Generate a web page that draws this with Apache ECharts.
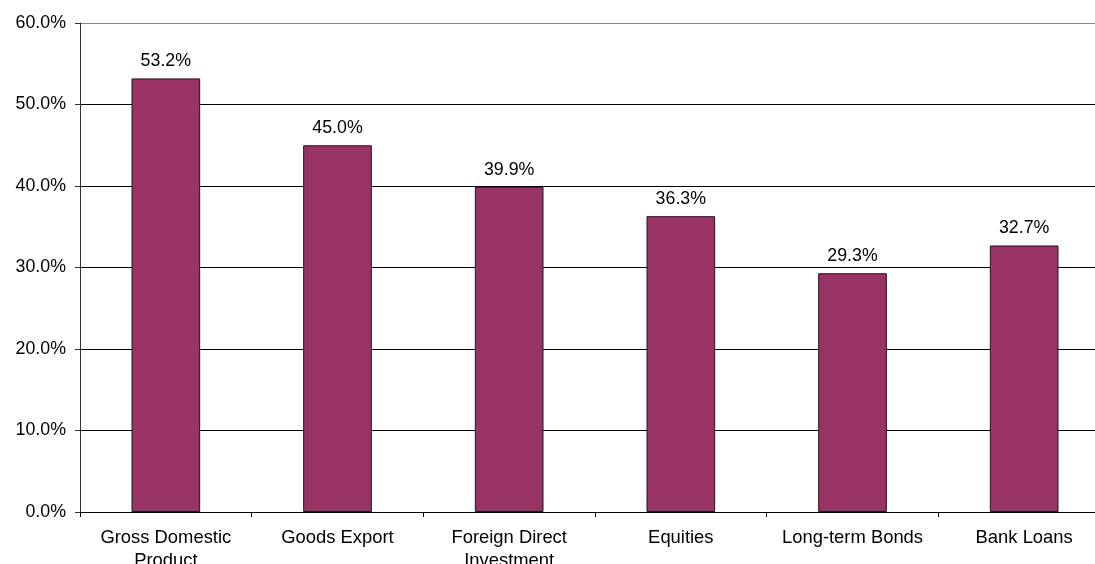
<!DOCTYPE html>
<html>
<head>
<meta charset="utf-8">
<script src="https://cdn.jsdelivr.net/npm/echarts@6/dist/echarts.min.js"></script>
<style>
  html, body { margin: 0; padding: 0; background: #fff; overflow: hidden; }
  #chart { width: 1095px; height: 564px; }
</style>
</head>
<body>
<div id="chart"></div>
<script>
// Share of world total by category (percent)
const categories = ['Gross Domestic\nProduct', 'Goods Export', 'Foreign Direct\nInvestment', 'Equities', 'Long-term Bonds', 'Bank Loans'];
const shares = [53.2, 45.0, 39.9, 36.3, 29.3, 32.7];

const FONT = '"Liberation Sans", Arial, sans-serif';
const FS_CAT = 18.4;   // category names
const FS_NUM = 17.8;   // percentages

const chart = echarts.init(document.getElementById('chart'), null, { renderer: 'canvas' });
chart.setOption({
  animation: false,
  backgroundColor: '#ffffff',
  // the plot area runs a little past the right and bottom edges of the canvas
  grid: { left: 80, width: 1030, top: 23, height: 489, containLabel: false, outerBoundsMode: 'none' },
  xAxis: {
    type: 'category',
    data: categories,
    axisLine: { lineStyle: { color: '#000', width: 1 } },
    axisTick: { show: true, alignWithLabel: false, length: 5, inside: false, lineStyle: { color: '#000' } },
    axisLabel: { color: '#000', fontFamily: FONT, fontSize: FS_CAT, margin: 14, lineHeight: 23, interval: 0 },
    splitLine: { show: false }
  },
  yAxis: {
    type: 'value',
    min: 0, max: 60, interval: 10,
    axisLine: { show: true, lineStyle: { color: '#333', width: 1 } },
    axisTick: { show: true, length: 5, inside: false, lineStyle: { color: '#333' } },
    axisLabel: {
      color: '#000', fontFamily: FONT, fontSize: FS_NUM, margin: 14,
      formatter: v => v.toFixed(1) + '%'
    },
    splitLine: {
      show: true,
      lineStyle: { color: ['#000', '#000', '#000', '#000', '#000', '#000', '#888'], width: 1 }
    }
  },
  series: [{
    type: 'bar',
    data: shares,
    barWidth: '40%',
    itemStyle: { color: '#993366', borderColor: '#1a1a1a', borderWidth: 1 },
    label: {
      show: true, position: 'top', distance: 8,
      color: '#000', fontFamily: FONT, fontSize: FS_NUM,
      formatter: p => p.value.toFixed(1) + '%'
    }
  }]
});
</script>
</body>
</html>
